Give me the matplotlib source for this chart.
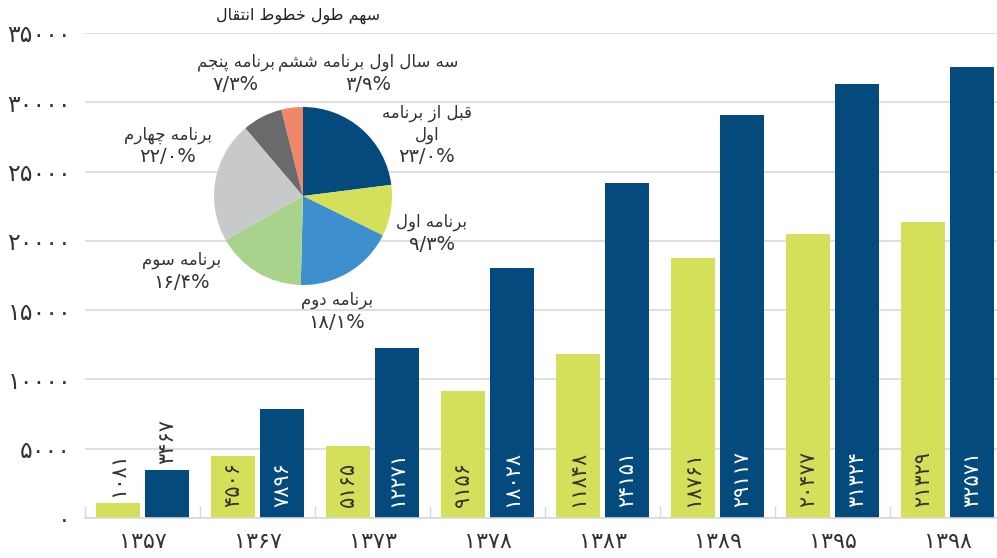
import numpy as np
import matplotlib
matplotlib.use('Agg')
import matplotlib.pyplot as plt
from matplotlib.ticker import FixedLocator

# -------------------------------------------------------------
# داده ها
# -------------------------------------------------------------
years = ['۱۳۵۷', '۱۳۶۷', '۱۳۷۳', '۱۳۷۸', '۱۳۸۳', '۱۳۸۹', '۱۳۹۵', '۱۳۹۸']
series_green = [1081, 4506, 5165, 9156, 11848, 18761, 20477, 21329]
series_blue = [3467, 7896, 12271, 18028, 24151, 29117, 31324, 32571]

pie_names = ['قبل از برنامه\nاول', 'برنامه اول', 'برنامه دوم', 'برنامه سوم',
             'برنامه چهارم', 'برنامه پنجم', 'سه سال اول برنامه ششم']
pie_shares = [23.0, 9.3, 18.1, 16.4, 22.0, 7.3, 3.9]
pie_pct = ['۲۳/۰%', '۹/۳%', '۱۸/۱%', '۱۶/۴%', '۲۲/۰%', '۷/۳%', '۳/۹%']

title = 'سهم طول خطوط انتقال'
y_ticks = [0, 5000, 10000, 15000, 20000, 25000, 30000, 35000]

col_green = '#d4e05a'
col_blue = '#044a7c'
pie_colors = ['#044a7c', '#d4e05a', '#3d8fce', '#a9d38c', '#c8c9cb', '#6a6a6c', '#f0866a']
txt = '#333333'
grid_col = '#d9d9d9'

# -------------------------------------------------------------
# شکل دهی ساده حروف فارسی (matplotlib خودش این کار را نمی کند)
# -------------------------------------------------------------
FORMS = {
    'ا': ('\uFE8D', '\uFE8E', None, None),
    'ب': ('\uFE8F', '\uFE90', '\uFE91', '\uFE92'),
    'پ': ('\uFB56', '\uFB57', '\uFB58', '\uFB59'),
    'ت': ('\uFE95', '\uFE96', '\uFE97', '\uFE98'),
    'ج': ('\uFE9D', '\uFE9E', '\uFE9F', '\uFEA0'),
    'چ': ('\uFB7A', '\uFB7B', '\uFB7C', '\uFB7D'),
    'خ': ('\uFEA5', '\uFEA6', '\uFEA7', '\uFEA8'),
    'د': ('\uFEA9', '\uFEAA', None, None),
    'ر': ('\uFEAD', '\uFEAE', None, None),
    'ز': ('\uFEAF', '\uFEB0', None, None),
    'س': ('\uFEB1', '\uFEB2', '\uFEB3', '\uFEB4'),
    'ش': ('\uFEB5', '\uFEB6', '\uFEB7', '\uFEB8'),
    'ط': ('\uFEC1', '\uFEC2', '\uFEC3', '\uFEC4'),
    'ق': ('\uFED5', '\uFED6', '\uFED7', '\uFED8'),
    'ل': ('\uFEDD', '\uFEDE', '\uFEDF', '\uFEE0'),
    'م': ('\uFEE1', '\uFEE2', '\uFEE3', '\uFEE4'),
    'ن': ('\uFEE5', '\uFEE6', '\uFEE7', '\uFEE8'),
    'ه': ('\uFEE9', '\uFEEA', '\uFEEB', '\uFEEC'),
    'و': ('\uFEED', '\uFEEE', None, None),
}


def shape_line(s):
    out = []
    for i, ch in enumerate(s):
        if ch not in FORMS:
            out.append(ch)
            continue
        prv = s[i - 1] if i > 0 else ''
        nxt = s[i + 1] if i + 1 < len(s) else ''
        join_prev = prv in FORMS and FORMS[prv][2] is not None
        join_next = nxt in FORMS and FORMS[ch][2] is not None
        f = FORMS[ch]
        if join_prev and join_next:
            out.append(f[3])
        elif join_prev:
            out.append(f[1])
        elif join_next:
            out.append(f[2])
        else:
            out.append(f[0])
    return ''.join(out)[::-1]


def fa_num(n):
    return str(n).translate(str.maketrans('0123456789', '۰۱۲۳۴۵۶۷۸۹'))


plt.rcParams['font.family'] = ['DejaVu Sans']

W, H = 997, 558
fig = plt.figure(figsize=(W / 100, H / 100), dpi=100)


def fx(px):
    return px / W


def fy(py):
    return 1 - py / H


# -------------------------------------------------------------
# نمودار ستونی
# -------------------------------------------------------------
ax = fig.add_axes([fx(85), fy(518), fx(1005) - fx(85), fy(33) - fy(518)])
x = np.arange(len(years))
off = 0.213
bw = 0.383
ax.bar(x - off, series_green, width=bw, color=col_green, zorder=3)
ax.bar(x + off, series_blue, width=bw, color=col_blue, zorder=3)

ax.set_xlim(-0.5, len(years) - 0.5)
ax.set_ylim(0, 35000)
ax.set_yticks(y_ticks)
ax.set_yticklabels([fa_num(v) for v in y_ticks], fontsize=17, color=txt)
ax.set_xticks(x)
ax.set_xticklabels(years, fontsize=16, color=txt)
ax.xaxis.set_minor_locator(FixedLocator(np.arange(-0.5, len(years), 1.0)))
ax.tick_params(axis='x', which='major', length=0, pad=10)
ax.tick_params(axis='x', which='minor', direction='in', length=9, width=1, color=grid_col)
ax.tick_params(axis='y', length=0, pad=10)
ax.grid(axis='y', color=grid_col, linewidth=1.2, zorder=0)
for s in ['top', 'right', 'left']:
    ax.spines[s].set_visible(False)
ax.spines['bottom'].set_color(grid_col)
ax.spines['bottom'].set_linewidth(1.2)
ax.spines['bottom'].set_zorder(4)

for xs, vals, inside_col in [(x - off, series_green, txt), (x + off, series_blue, 'white')]:
    for xi, v in zip(xs, vals):
        if v < 4000:
            ax.annotate(fa_num(v), (xi, v), xytext=(0, 6), textcoords='offset pixels',
                        rotation=90, ha='center', va='bottom', fontsize=15, color=txt, zorder=5)
        else:
            ax.annotate(fa_num(v), (xi, 0), xytext=(0, 11), textcoords='offset pixels',
                        rotation=90, ha='center', va='bottom', fontsize=15, color=inside_col, zorder=5)

# -------------------------------------------------------------
# نمودار دایره ای
# -------------------------------------------------------------
cx, cy, r = 303, 196, 89
pax = fig.add_axes([fx(cx - r), fy(cy + r), fx(2 * r), fy(cy - r) - fy(cy + r)])
pax.pie(pie_shares, colors=pie_colors, startangle=90, counterclock=False,
        wedgeprops=dict(linewidth=0))
pax.set_xlim(-1, 1)
pax.set_ylim(-1, 1)
pax.set_aspect('equal')
pax.axis('off')

# جای برچسب ها (پیکسل): وسط متن، y خط اول نام، y درصد
label_pos = [(427, 113, 157), (432, 222, 244), (337, 300, 322), (182, 260, 283),
             (168, 135, 157), (236, 62, 84), (368, 62, 84)]
for name, pct, (lx, ly, py) in zip(pie_names, pie_pct, label_pos):
    for k, ln in enumerate(name.split('\n')):
        fig.text(fx(lx), fy(ly + 22 * k), shape_line(ln), ha='center', va='center',
                 fontsize=12, color=txt)
    fig.text(fx(lx), fy(py), pct, ha='center', va='center', fontsize=14, color=txt)

fig.text(fx(298), fy(16), shape_line(title), ha='center', va='center', fontsize=11.5,
         color='#222222')

fig.savefig('out.png', dpi=100)
